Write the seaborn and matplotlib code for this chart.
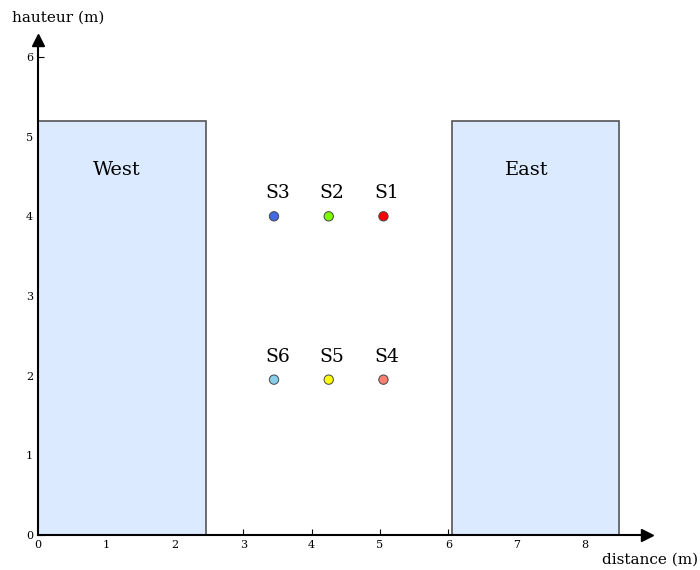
import pandas as pd
import matplotlib.pyplot as plt
import seaborn as sns

# Sensor positions (m)
sensors = ["S1", "S2", "S3", "S4", "S5", "S6"]
sensor_x = [5.05, 4.25, 3.45, 5.05, 4.25, 3.45]
sensor_y = [4.0, 4.0, 4.0, 1.95, 1.95, 1.95]
sensor_colors = ["red", "lawngreen", "royalblue", "salmon", "yellow", "skyblue"]

# Walls: name, x start, width, height
walls = ["West", "East"]
wall_x0 = [0.0, 6.05]
wall_w = [2.45, 2.45]
wall_h = [5.2, 5.2]
wall_label_x = [1.15, 7.15]
wall_label_y = [4.58, 4.58]

sns.set_style("ticks", rc={"text.color": "black", "xtick.color": "black", "ytick.color": "black"})
plt.rcParams['font.family'] = ['DejaVu Serif']

df = pd.DataFrame({"sensor": sensors, "x": sensor_x, "y": sensor_y})

fig = plt.figure(figsize=(7, 5.7), dpi=100)
ax = fig.add_axes([0.0543, 0.0614, 0.8697, 0.868])

for name, x0, w, h, lx, ly in zip(walls, wall_x0, wall_w, wall_h, wall_label_x, wall_label_y):
    ax.add_patch(plt.Rectangle((x0, 0), w, h, facecolor="#dbeafe", edgecolor="#555555", linewidth=1.2, zorder=1))
    ax.text(lx, ly, name, ha="center", va="center", fontsize=14)

sns.scatterplot(data=df, x="x", y="y", hue="sensor", palette=dict(zip(sensors, sensor_colors)),
                s=45, edgecolor="#444444", linewidth=0.7, legend=False, zorder=3, ax=ax)
for s, x, y in zip(sensors, sensor_x, sensor_y):
    ax.text(x + 0.05, y + 0.29, s, ha="center", va="center", fontsize=13.5)

ax.set_xlim(0, 8.9)
ax.set_ylim(0, 6.21)
ax.set_xticks(range(0, 9))
ax.set_yticks(range(0, 7))
ax.tick_params(direction="in", labelsize=8, length=4, width=0.8)
ax.set_xlabel("")
ax.set_ylabel("")
for side in ["top", "right"]:
    ax.spines[side].set_visible(False)
for side in ["left", "bottom"]:
    ax.spines[side].set_linewidth(1.5)
    ax.spines[side].set_color("black")

# arrow heads
ax.plot(1, 0, ">k", ms=8, transform=ax.get_yaxis_transform(), clip_on=False)
ax.plot(0, 1, "^k", ms=8, transform=ax.get_xaxis_transform(), clip_on=False)

fig.text(12 / 700, 1 - 18 / 570, "hauteur (m)", fontsize=11, ha="left", va="center")
fig.text(698 / 700, 1 - 560 / 570, "distance (m)", fontsize=11, ha="right", va="center")

fig.savefig("out.png", dpi=100)
